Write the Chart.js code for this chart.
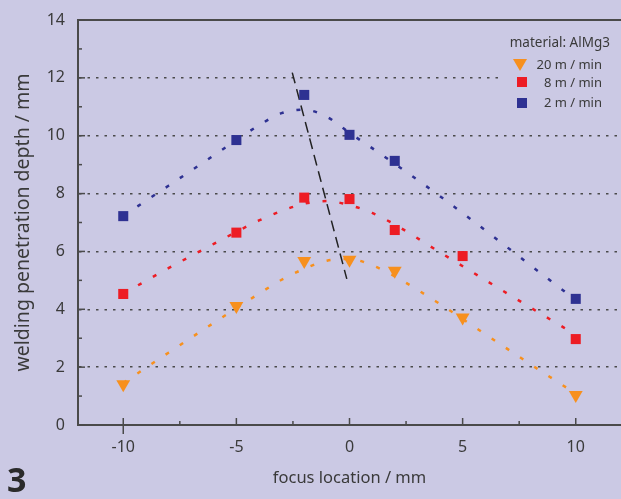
<!DOCTYPE html>
<html>
<head>
<meta charset="utf-8">
<script src="https://cdn.jsdelivr.net/npm/chart.js@4/dist/chart.umd.min.js"></script>
<style>
  html, body { margin: 0; padding: 0; background: #cbc9e4; }
  #wrap { position: relative; width: 621px; height: 499px; }
  #fig { position: absolute; left: 7px; top: 456px; font: bold 34px "Noto Sans", sans-serif; color: #2b2b2b; }
</style>
</head>
<body>
<div id="wrap">
  <canvas id="chart" width="621" height="499"></canvas>
  <div id="fig">3</div>
</div>
<script>
// measured points
const focusX = [-10, -5, -2, 0, 2, 5, 10];
const depth20 = [1.41, 4.11, 5.67, 5.71, 5.33, 3.72, 1.04];
const depth8 = [4.53, 6.65, 7.86, 7.81, 6.74, 5.84, 2.97];
const focusX2 = [-10, -5, -2, 0, 2, 10];
const depth2 = [7.22, 9.85, 11.41, 10.03, 9.13, 4.36];

// fitted curves
const fitX = [-10, -8, -6, -4, -3, -2, -1, 0, 1, 2, 4, 6, 8, 10];
const fit20 = [1.45, 2.5, 3.53, 4.54, 5.02, 5.4, 5.68, 5.74, 5.52, 5.14, 4.18, 3.14, 2.1, 1.08];
const fit8 = [4.54, 5.42, 6.26, 7.07, 7.4, 7.65, 7.74, 7.6, 7.33, 6.93, 5.97, 5.01, 4.06, 3.12];
const fit2 = [7.23, 8.27, 9.32, 10.36, 10.78, 10.9, 10.65, 10.1, 9.57, 9.03, 7.91, 6.73, 5.52, 4.32];

// shift of the maximum
const peakX = [-2.53, -0.12];
const peakY = [12.18, 5.05];

const xTicks = [-10, -5, 0, 5, 10];
const yTicks = [0, 2, 4, 6, 8, 10, 12, 14];

const legendTitle = "material: AlMg3";
const legendLabels = ["20 m / min", "8 m / min", "2 m / min"];

const orange = "#f7901e", red = "#ed1c24", blue = "#2e3192";
const bg = "#cbc9e4", ink = "#3a3a3a", axisInk = "#4a4a4a";
const fontFam = "'Noto Sans', sans-serif";

const pts = (xs, ys) => xs.map((x, i) => ({x: x, y: ys[i]}));

function fitSet(ys, color) {
  return {
    type: "line", data: pts(fitX, ys), borderColor: color, borderWidth: 2.5,
    borderDash: [4, 13], pointRadius: 0, tension: 0.4, cubicInterpolationMode: "monotone", order: 3
  };
}
function markSet(xs, ys, color, style, radius, rot) {
  return {
    type: "scatter", data: pts(xs, ys), backgroundColor: color, borderWidth: 0,
    pointStyle: style, pointRadius: radius, pointHoverRadius: radius, rotation: rot, order: 1
  };
}

const framePlugin = {
  id: "frame",
  afterDraw(chart) {
    const ctx = chart.ctx, a = chart.chartArea;
    const sx = chart.scales.x, sy = chart.scales.y;
    ctx.save();
    ctx.strokeStyle = axisInk;
    ctx.lineWidth = 2;
    // top frame line
    ctx.beginPath(); ctx.moveTo(a.left, a.top); ctx.lineTo(a.right, a.top); ctx.stroke();
    // inward ticks
    ctx.lineWidth = 1.5;
    for (let v = 0; v <= 14; v++) {
      const y = sy.getPixelForValue(v);
      const len = v % 2 === 0 ? 7 : 4;
      ctx.beginPath(); ctx.moveTo(a.left, y); ctx.lineTo(a.left + len, y); ctx.stroke();
    }
    for (let v = -10; v <= 10; v += 2.5) {
      const x = sx.getPixelForValue(v);
      const len = v % 5 === 0 ? 7 : 4;
      ctx.beginPath(); ctx.moveTo(x, a.bottom); ctx.lineTo(x, a.bottom - len); ctx.stroke();
    }
    const x10 = sx.getPixelForValue(-10);
    ctx.beginPath(); ctx.moveTo(x10, a.bottom); ctx.lineTo(x10, a.bottom + 9); ctx.stroke();

    // legend box
    ctx.fillStyle = bg;
    ctx.fillRect(499, 28, 122, 88);
    ctx.fillStyle = ink;
    ctx.font = "13.5px " + fontFam;
    ctx.textAlign = "right";
    ctx.textBaseline = "middle";
    ctx.fillText(legendTitle, 610, 43);
    const rows = [65, 83, 103];
    ctx.font = "13px " + fontFam;
    legendLabels.forEach((t, i) => ctx.fillText(t, 602, rows[i]));
    // markers
    ctx.fillStyle = orange;
    ctx.beginPath(); ctx.moveTo(513, 59); ctx.lineTo(527, 59); ctx.lineTo(520, 71); ctx.closePath(); ctx.fill();
    ctx.fillStyle = red; ctx.fillRect(517, 77, 10, 10);
    ctx.fillStyle = blue; ctx.fillRect(517, 98, 10, 10);
    ctx.restore();
  }
};

new Chart(document.getElementById("chart"), {
  data: {
    datasets: [
      fitSet(fit20, orange),
      fitSet(fit8, red),
      fitSet(fit2, blue),
      {
        type: "line", data: pts(peakX, peakY), borderColor: "#222", borderWidth: 1.5,
        borderDash: [11, 6], pointRadius: 0, order: 2
      },
      markSet(focusX, depth20, orange, "triangle", 8, 180),
      markSet(focusX, depth8, red, "rect", 7.1, 0),
      markSet(focusX2, depth2, blue, "rect", 7.1, 0)
    ]
  },
  options: {
    responsive: false,
    animation: false,
    events: [],
    layout: {autoPadding: false, padding: {top: 20, right: 0, left: 0, bottom: 0}},
    plugins: {legend: {display: false}, tooltip: {enabled: false}},
    scales: {
      x: {
        type: "linear", min: -12, max: 12,
        afterBuildTicks: s => { s.ticks = xTicks.map(v => ({value: v})); },
        afterFit: s => { s.height = 74; s.paddingLeft = 0; s.paddingRight = 0; },
        grid: {display: false, drawTicks: false},
        border: {display: true, color: axisInk, width: 2},
        ticks: {color: ink, font: {size: 16, family: fontFam}, padding: 13, maxRotation: 0, autoSkip: false},
        title: {display: true, text: "focus location / mm", color: ink, font: {size: 16.5, family: fontFam}, padding: {top: 0, bottom: 11}}
      },
      y: {
        type: "linear", min: 0, max: 14,
        afterBuildTicks: s => { s.ticks = yTicks.map(v => ({value: v})); },
        afterFit: s => { s.width = 78; s.paddingTop = 0; s.paddingBottom = 0; },
        grid: {
          drawTicks: false, lineWidth: 1.5,
          color: c => (c.tick && (c.tick.value === 0 || c.tick.value === 14)) ? "rgba(0,0,0,0)" : "#4a4a4a"
        },
        border: {display: true, color: axisInk, width: 2, dash: [2.5, 6]},
        ticks: {color: ink, font: {size: 16, family: fontFam}, padding: 13},
        title: {display: true, text: "welding penetration depth / mm", color: ink, font: {size: 19.5, family: fontFam}, padding: {top: 12, bottom: 0}}
      }
    }
  },
  plugins: [framePlugin]
});
</script>
</body>
</html>
